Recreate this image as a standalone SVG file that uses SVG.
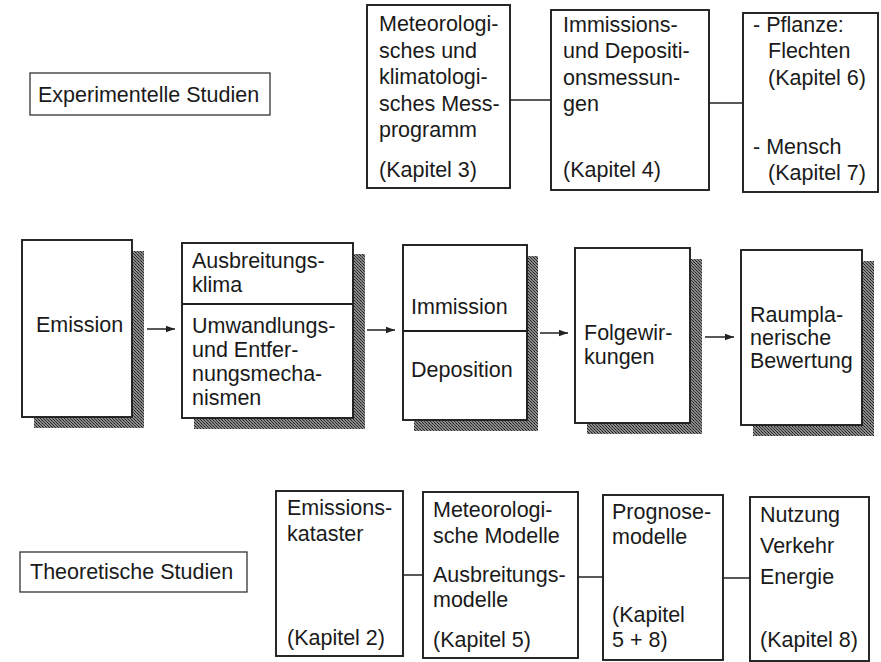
<svg xmlns="http://www.w3.org/2000/svg" width="881" height="662" viewBox="0 0 881 662">
  <defs>
    <!-- halftone stipple used for the drop shadows -->
    <pattern id="stipple" width="3" height="3" patternUnits="userSpaceOnUse">
      <rect width="3" height="3" fill="#8a8a8a"/>
      <rect x="0" y="0" width="1" height="1" fill="#1e1e1e"/>
      <rect x="1" y="1" width="1" height="1" fill="#3a3a3a"/>
      <rect x="2" y="2" width="1" height="1" fill="#2a2a2a"/>
    </pattern>
    <marker id="arrow" viewBox="0 0 10 10" refX="10" refY="5" markerWidth="9" markerHeight="9" markerUnits="userSpaceOnUse" orient="auto">
      <path d="M0,1.5 L10,5 L0,8.5 Z" fill="#222"/>
    </marker>
  </defs>
  <style>
    text { font-family: "Liberation Sans", Arial, Helvetica, sans-serif; font-size: 21.5px; fill: #1a1a1a; }
    .box { fill: #fff; stroke: #1e1e1e; stroke-width: 1.9; }
    .label { fill: #fff; stroke: #333; stroke-width: 1.3; }
    .shadow { fill: url(#stipple); }
    .div { stroke: #1e1e1e; stroke-width: 1.8; }
    .conn { stroke: #222; stroke-width: 1.5; fill: none; }
  </style>
  <rect width="881" height="662" fill="#fff"/>

  <!-- connectors -->
  <g id="connectors">
    <line class="conn" x1="510" y1="100" x2="551" y2="100"/>
    <line class="conn" x1="709" y1="103" x2="743" y2="103"/>
    <line class="conn" x1="147" y1="329" x2="175" y2="329" marker-end="url(#arrow)"/>
    <line class="conn" x1="367" y1="330" x2="395" y2="330" marker-end="url(#arrow)"/>
    <line class="conn" x1="540" y1="333" x2="568" y2="333" marker-end="url(#arrow)"/>
    <line class="conn" x1="705" y1="337" x2="734" y2="337" marker-end="url(#arrow)"/>
    <line class="conn" x1="403" y1="575" x2="423" y2="575"/>
    <line class="conn" x1="578" y1="577" x2="603" y2="577"/>
    <line class="conn" x1="723" y1="578" x2="750" y2="578"/>
  </g>

  <!-- experimental studies row -->
  <g id="experimentelle">
    <rect class="label" x="30" y="73" width="240" height="42"/>
    <text x="38" y="102">Experimentelle Studien</text>
  </g>
  <g id="messprogramm">
    <rect class="box" x="367" y="5" width="143" height="183"/>
    <text x="379" y="31">Meteorologi-</text>
    <text x="379" y="58">sches und</text>
    <text x="379" y="84">klimatologi-</text>
    <text x="379" y="111">sches Mess-</text>
    <text x="379" y="137">programm</text>
    <text x="379" y="177">(Kapitel 3)</text>
  </g>
  <g id="messungen">
    <rect class="box" x="551" y="10" width="158" height="180"/>
    <text x="563" y="32">Immissions-</text>
    <text x="563" y="58">und Depositi-</text>
    <text x="563" y="85">onsmessun-</text>
    <text x="563" y="111">gen</text>
    <text x="563" y="177">(Kapitel 4)</text>
  </g>
  <g id="wirkungen">
    <rect class="box" x="743" y="13" width="135" height="179"/>
    <text x="753" y="32">- Pflanze:</text>
    <text x="768" y="58">Flechten</text>
    <text x="768" y="85">(Kapitel 6)</text>
    <text x="753" y="154">- Mensch</text>
    <text x="768" y="180">(Kapitel 7)</text>
  </g>

  <!-- process chain -->
  <g id="emission">
    <rect class="shadow" x="34" y="251" width="110" height="177"/>
    <rect class="box" x="22" y="240" width="110" height="177"/>
    <text x="36" y="332">Emission</text>
  </g>
  <g id="ausbreitung">
    <rect class="shadow" x="194" y="254" width="171" height="175"/>
    <rect class="box" x="182" y="243" width="171" height="175"/>
    <line class="div" x1="182" y1="304" x2="353" y2="304"/>
    <text x="192" y="268">Ausbreitungs-</text>
    <text x="192" y="292">klima</text>
    <text x="192" y="333">Umwandlungs-</text>
    <text x="192" y="357">und Entfer-</text>
    <text x="192" y="381">nungsmecha-</text>
    <text x="192" y="405">nismen</text>
  </g>
  <g id="immission">
    <rect class="shadow" x="414" y="256" width="124" height="175"/>
    <rect class="box" x="403" y="245" width="124" height="175"/>
    <line class="div" x1="403" y1="331" x2="527" y2="331"/>
    <text x="411" y="314">Immission</text>
    <text x="411" y="377">Deposition</text>
  </g>
  <g id="folgewirkungen">
    <rect class="shadow" x="587" y="259" width="115" height="175"/>
    <rect class="box" x="575" y="248" width="115" height="175"/>
    <text x="584" y="340">Folgewir-</text>
    <text x="584" y="364">kungen</text>
  </g>
  <g id="bewertung">
    <rect class="shadow" x="753" y="261" width="121" height="175"/>
    <rect class="box" x="741" y="250" width="121" height="175"/>
    <text x="750" y="322">Raumpla-</text>
    <text x="750" y="345">nerische</text>
    <text x="750" y="368">Bewertung</text>
  </g>

  <!-- theoretical studies row -->
  <g id="theoretische">
    <rect class="label" x="20" y="552" width="227" height="40"/>
    <text x="30" y="579">Theoretische Studien</text>
  </g>
  <g id="kataster">
    <rect class="box" x="276" y="491" width="127" height="165"/>
    <text x="287" y="515">Emissions-</text>
    <text x="287" y="541">kataster</text>
    <text x="287" y="645">(Kapitel 2)</text>
  </g>
  <g id="modelle">
    <rect class="box" x="423" y="492" width="155" height="166"/>
    <text x="433" y="517">Meteorologi-</text>
    <text x="433" y="543">sche Modelle</text>
    <text x="433" y="582">Ausbreitungs-</text>
    <text x="433" y="607">modelle</text>
    <text x="433" y="647">(Kapitel 5)</text>
  </g>
  <g id="prognose">
    <rect class="box" x="603" y="495" width="120" height="165"/>
    <text x="612" y="519">Prognose-</text>
    <text x="612" y="544">modelle</text>
    <text x="612" y="622">(Kapitel</text>
    <text x="612" y="647">5 + 8)</text>
  </g>
  <g id="nutzung">
    <rect class="box" x="750" y="497" width="119" height="164"/>
    <text x="760" y="522">Nutzung</text>
    <text x="760" y="553">Verkehr</text>
    <text x="760" y="584">Energie</text>
    <text x="760" y="647">(Kapitel 8)</text>
  </g>
</svg>
